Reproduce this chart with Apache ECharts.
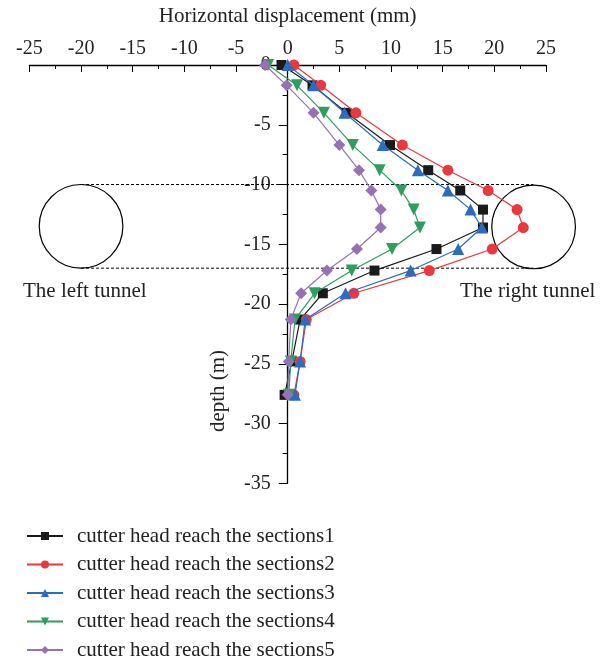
<!DOCTYPE html>
<html><head><meta charset="utf-8">
<script src="https://cdn.jsdelivr.net/npm/echarts@6/dist/echarts.min.js"></script>
<style>html,body{margin:0;padding:0;background:#fff;}#c{width:607px;height:663px;}</style>
</head><body><div id="c"></div>
<script>
const depths = [0, -1.7, -4.0, -6.7, -8.8, -10.5, -12.1, -13.6, -15.4, -17.2, -19.1, -21.3, -24.8, -27.6];
const s1 = [-0.6, 2.4, 5.7, 9.9, 13.6, 16.7, 18.9, 18.9, 14.4, 8.4, 3.4, 1.2, 0.4, -0.3];
const s2 = [0.6, 3.2, 6.6, 11.1, 15.5, 19.4, 22.2, 22.8, 19.8, 13.7, 6.4, 1.8, 1.2, 0.6];
const s3 = [0.0, 2.5, 5.5, 9.2, 12.6, 15.5, 17.7, 18.8, 16.5, 11.9, 5.6, 1.7, 1.2, 0.7];
const s4 = [-1.9, 0.9, 3.5, 6.3, 8.9, 11.0, 12.2, 12.8, 10.1, 6.2, 2.6, 0.7, 0.3, 0.1];
const s5 = [-2.2, -0.1, 2.5, 5.0, 6.9, 8.1, 9.0, 9.0, 6.7, 3.8, 1.3, 0.3, 0.1, 0.0];
const names = ['cutter head reach the sections1','cutter head reach the sections2','cutter head reach the sections3','cutter head reach the sections4','cutter head reach the sections5'];
const tunnels = [[-20, -13.5], [23.8, -13.55]];
const tunnelRadius = 3.5;
const dashDepths = [-10, -17];
const dashX = [-20, 23.8];
const xTicks = {min: -25, max: 25, interval: 5};
const yTicks = {min: -35, max: 0, interval: 5};

const font = '"Liberation Serif","DejaVu Serif",serif';
const colors = ['#1a1a1a', '#e8393f', '#2a6cc0', '#2f9d5d', '#9672b5'];
const symbols = ['rect', 'circle', 'triangle', 'triangle', 'diamond'];
const sizes = [10, 11, 12, 12, 12];
const rots = [0, 0, 0, 180, 0];
const allS = [s1, s2, s3, s4, s5];

const gridLeft = 29.4, gridRight = 61;
const plotW = 607 - gridLeft - gridRight;
const zeroOffset = -plotW * (0 - xTicks.min) / (xTicks.max - xTicks.min);

const series = allS.map((s, i) => ({
  name: names[i], type: 'line', data: s.map((v, k) => [v, depths[k]]),
  symbol: symbols[i], symbolSize: sizes[i], symbolRotate: rots[i],
  itemStyle: {color: colors[i]}, lineStyle: {color: colors[i], width: 1.2},
  z: 3 + i
}));
dashDepths.forEach(d => series.push({
  type: 'line', data: dashX.map(x => [x, d]), symbol: 'none', silent: true,
  lineStyle: {color: '#000', width: 1, type: [3, 2]}, z: 2
}));
series.push({
  type: 'custom', data: tunnels, silent: true, clip: false, z: 2,
  renderItem: (params, api) => {
    const c = api.coord([api.value(0), api.value(1)]);
    const r = api.size([0, tunnelRadius])[1];
    return {type: 'circle', shape: {cx: c[0], cy: c[1], r: r}, style: {fill: 'none', stroke: '#000', lineWidth: 1.2}};
  }
});

const chart = echarts.init(document.getElementById('c'));
chart.setOption({
  animation: false,
  grid: {left: gridLeft, right: gridRight, top: 65, bottom: 179.7, containLabel: false, outerBoundsMode: 'none'},
  xAxis: {type: 'value', position: 'top', min: xTicks.min, max: xTicks.max, interval: xTicks.interval,
    name: 'Horizontal displacement (mm)', nameLocation: 'middle', nameGap: 38, nameMoveOverlap: false,
    nameTextStyle: {fontFamily: font, fontSize: 21, color: '#222'},
    axisLine: {onZero: false, lineStyle: {color: '#000', width: 1.3}},
    axisTick: {inside: true, length: 7, lineStyle: {color: '#000'}},
    minorTick: {show: true, splitNumber: 2, length: 4, lineStyle: {color: '#000'}},
    axisLabel: {fontFamily: font, fontSize: 20, color: '#222', margin: 6},
    splitLine: {show: false}},
  yAxis: {type: 'value', min: yTicks.min, max: yTicks.max, interval: yTicks.interval,
    offset: zeroOffset,
    axisLine: {onZero: false, lineStyle: {color: '#000', width: 1.3}},
    axisTick: {length: 9, lineStyle: {color: '#000'}},
    minorTick: {show: true, splitNumber: 2, length: 5, lineStyle: {color: '#000'}},
    axisLabel: {fontFamily: font, fontSize: 20, color: '#222', margin: 17},
    splitLine: {show: false}},
  legend: {data: names, orient: 'vertical', left: 26, top: 525, height: 138, padding: 0,
    itemGap: 6.5, itemWidth: 36, itemHeight: 10,
    textStyle: {fontFamily: font, fontSize: 21, lineHeight: 22, color: '#222', padding: [0, 0, 0, 9]}},
  graphic: [
    {type: 'text', left: 23, top: 281, style: {text: 'The left tunnel', font: '21px ' + font, fill: '#222'}},
    {type: 'text', left: 460, top: 281, style: {text: 'The right tunnel', font: '21px ' + font, fill: '#222'}},
    {type: 'text', x: 218, y: 391, rotation: Math.PI / 2, style: {text: 'depth (m)', font: '21px ' + font, fill: '#222', align: 'center', verticalAlign: 'middle'}}
  ],
  series: series
});
</script></body></html>
